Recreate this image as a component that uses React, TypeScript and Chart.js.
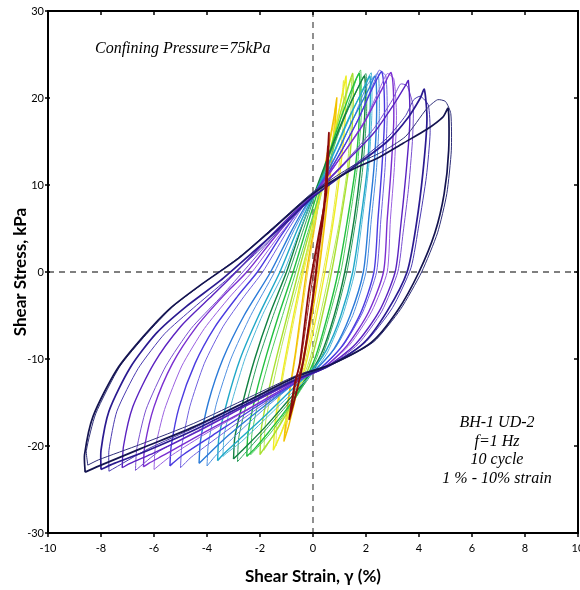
import React, { useEffect, useRef } from 'react';
import { Chart, registerables } from 'chart.js';

Chart.register(...registerables);

type P = [number, number];

// Axis ticks
const xTickValues = [-10, -8, -6, -4, -2, 0, 2, 4, 6, 8, 10];
const yTickValues = [-30, -20, -10, 0, 10, 20, 30];

// Loop levels (shear strain %, shear stress kPa), smallest to largest — main cycle
const loopL1: P[] = [[-0.9,-17],[-0.7,-13],[-0.5,-10.5],[-0.15,-2],[0.2,4],[0.5,9],[0.6,16],
  [0.45,8],[0.2,2],[0.0,-3],[-0.35,-10],[-0.6,-13.5],[-0.9,-17]];
const loopL2: P[] = [[-1.1,-19.5],[-0.95,-15],[-0.65,-9],[-0.25,0],[0.15,7],[0.5,13],[0.8,18],[0.9,20],
  [0.75,14],[0.5,7],[0.22,0],[-0.15,-7],[-0.55,-13],[-0.9,-17.5],[-1.1,-19.5]];
const loopL3: P[] = [[-1.5,-20.5],[-1.42,-17],[-1.17,-12],[-0.8,-6],[-0.4,0],[0.0,5.5],[0.4,11],[0.8,16],[1.15,21],[1.25,22.5],
  [1.2,17],[1.0,11],[0.75,5.5],[0.45,0],[0.1,-5.5],[-0.3,-11],[-0.75,-15],[-1.2,-18.5],[-1.5,-20.5]];
const loopL4: P[] = [[-2.0,-21],[-1.95,-18],[-1.7,-14],[-1.35,-9.5],[-0.97,-5],[-0.55,0],[-0.1,5],[0.3,10],[0.7,14.5],[1.1,19],[1.4,22],[1.5,22.8],
  [1.5,18],[1.35,12],[1.05,6],[0.7,0],[0.35,-5],[-0.05,-10],[-0.5,-13.5],[-1.0,-16.3],[-1.5,-18.8],[-1.85,-20.3],[-2.0,-21]];
const loopL5: P[] = [[-2.5,-21.2],[-2.45,-18.5],[-2.15,-14],[-1.75,-9.5],[-1.3,-5],[-0.75,0],[-0.25,5],[0.2,9.5],[0.65,14],[1.15,18.5],[1.6,22],[1.75,22.8],
  [1.75,18],[1.6,12],[1.3,6],[0.95,0],[0.55,-5],[0.1,-9.7],[-0.4,-13],[-1.0,-15.8],[-1.7,-18.5],[-2.2,-20.3],[-2.5,-21.2]];
const loopL6: P[] = [[-3.0,-21.5],[-2.95,-19],[-2.65,-15],[-2.2,-10],[-1.65,-5],[-1.0,0],[-0.45,5],[0.05,9],[0.6,13.5],[1.2,18],[1.75,21.5],[1.95,22.5],
  [1.95,18],[1.8,12],[1.55,6],[1.2,0],[0.8,-5],[0.3,-9.5],[-0.3,-12.5],[-1.0,-15],[-1.8,-17.8],[-2.6,-20.3],[-3.0,-21.5]];
const loopL7: P[] = [[-3.6,-21.7],[-3.55,-19],[-3.25,-15],[-2.75,-10],[-2.05,-5],[-1.25,0],[-0.6,4.8],[-0.15,7.8],[0.15,9.5],[0.75,13.5],[1.4,18],[1.95,21.3],[2.15,22.5],
  [2.15,18],[2.05,12],[1.8,6],[1.5,0],[1.05,-5],[0.5,-9],[-0.1,-11.5],[-0.8,-13.5],[-1.8,-16.5],[-2.8,-19.3],[-3.4,-21],[-3.6,-21.7]];
const loopL8: P[] = [[-4.3,-22],[-4.25,-19.5],[-3.95,-15],[-3.4,-10],[-2.6,-5],[-1.6,0],[-0.85,4.5],[-0.3,7.5],[0.05,9],[0.8,13],[1.5,17.5],[2.1,21],[2.35,22.5],
  [2.4,18],[2.3,12],[2.1,6],[1.9,0],[1.4,-5],[0.8,-8.8],[0.1,-11.2],[-0.7,-12.8],[-2.0,-15.8],[-3.2,-18.8],[-3.9,-20.8],[-4.3,-22]];
const loopL9: P[] = [[-5.4,-22.3],[-5.35,-20],[-5.05,-15.5],[-4.45,-10.5],[-3.7,-6.3],[-2.85,-2.8],[-2.1,0],[-1.2,4.2],[-0.5,7.2],[0,8.8],[0.9,13],[1.7,17.5],[2.3,21.5],[2.6,23],
  [2.7,18],[2.6,12],[2.45,6],[2.3,0],[1.8,-4.7],[1.1,-8.5],[0.3,-11],[-0.6,-12.6],[-2.2,-15.6],[-3.8,-18.8],[-4.9,-21],[-5.3,-22],[-5.4,-22.3]];
const loopL10: P[] = [[-6.4,-22.4],[-6.35,-20],[-6.0,-15.5],[-5.3,-10.5],[-4.4,-6.3],[-3.4,-2.8],[-2.5,0],[-1.5,3.8],[-0.6,7],[0,8.8],[1.0,13],[1.9,17],[2.6,21],[2.95,22.9],
  [3.05,18],[2.95,12],[2.8,6],[2.66,0],[2.1,-4.6],[1.3,-8.4],[0.4,-11],[-0.6,-12.5],[-2.3,-15.5],[-4.2,-18.6],[-5.6,-21],[-6.2,-22],[-6.4,-22.4]];
const loopL11: P[] = [[-7.2,-22.5],[-7.15,-20],[-6.8,-15.5],[-6.0,-10.5],[-5.0,-6.3],[-3.9,-3],[-2.9,0],[-1.8,3.5],[-0.8,6.6],[0,8.8],[1.2,12.5],[2.3,16],[3.1,19.5],[3.5,21.5],[3.6,22],
  [3.65,17],[3.5,11],[3.3,5],[3.1,0],[2.5,-4.5],[1.6,-8.3],[0.5,-10.9],[-0.6,-12.4],[-2.4,-15.2],[-4.4,-18.4],[-6.0,-20.8],[-6.9,-22],[-7.2,-22.5]];
const loopL12: P[] = [[-8.0,-22.7],[-8.0,-20.5],[-7.7,-16],[-6.9,-11],[-5.9,-7],[-4.8,-4],[-3.5,-1.0],[-2.3,2.2],[-1.2,5.2],[0,8.6],[1.5,12],[2.8,15],[3.6,17.8],[4.05,20],[4.2,21],
  [4.3,17.5],[4.15,11.5],[3.9,5.5],[3.55,0],[2.8,-4.5],[1.9,-8.2],[0.6,-10.8],[-0.6,-12.3],[-2.4,-15],[-4.5,-18.2],[-6.3,-20.6],[-7.5,-22],[-8.0,-22.7]];
const loopL13: P[] = [[-8.6,-23],[-8.62,-21],[-8.3,-16.6],[-7.4,-11.2],[-6.4,-7.4],[-5.4,-4.2],[-4.2,-1.4],[-2.8,1.6],[-1.5,5],[0,9],[1.5,11.8],[2.5,13.2],[3.4,14.8],[4.3,16.4],[4.9,17.8],[5.1,18.8],
  [5.12,14],[4.95,9],[4.6,4.5],[4.0,0],[3.2,-4.4],[2.2,-8.1],[0.7,-10.6],[-0.6,-12],[-2.4,-14.7],[-4.5,-17.8],[-6.5,-20.3],[-8.0,-22.2],[-8.6,-23]];

// Other cycles of the same levels (thinner traces)
const cycleL1: P[] = [[-0.85,-16],[-0.65,-12.5],[-0.45,-10],[-0.1,-2.5],[0.25,4.5],[0.5,10],[0.55,14.5],[0.4,7.5],[0.15,1.5],[-0.05,-3.5],[-0.4,-10.5],[-0.65,-13],[-0.85,-16]];
const cycleL2: P[] = [[-1.05,-18.5],[-0.9,-14.5],[-0.6,-8.5],[-0.2,0],[0.2,7.5],[0.55,13.5],[0.8,17.5],[0.85,19],[0.7,13.5],[0.45,6.5],[0.18,0],[-0.2,-7],[-0.6,-13],[-0.95,-17],[-1.05,-18.5]];
const cycleL3: P[] = [[-1.4,-20],[-1.35,-16.5],[-1.1,-11.5],[-0.75,-6],[-0.35,0],[0.05,5.5],[0.45,11],[0.85,16.5],[1.1,20.5],[1.15,22],[1.12,16.5],[0.92,10.5],[0.68,5],[0.38,0],[0.03,-5.5],[-0.35,-11],[-0.8,-15],[-1.15,-18],[-1.4,-20]];
const cycleL4: P[] = [[-1.85,-20.5],[-1.8,-17.5],[-1.55,-13.5],[-1.22,-9],[-0.85,-4.5],[-0.45,0],[0.0,5],[0.4,10],[0.8,14.5],[1.15,19],[1.38,21.7],[1.45,22.3],[1.42,17.5],[1.28,11.5],[0.98,5.5],[0.62,0],[0.27,-5],[-0.12,-10],[-0.55,-13.5],[-1.0,-16],[-1.45,-18.5],[-1.75,-20],[-1.85,-20.5]];
const cycleL5: P[] = [[-2.35,-21],[-2.3,-18.5],[-2.0,-14],[-1.6,-9.5],[-1.15,-5],[-0.65,0],[-0.15,5],[0.3,9.5],[0.75,14],[1.25,18.5],[1.65,22.3],[1.8,23.2],[1.82,18],[1.67,12],[1.38,6],[1.05,0],[0.62,-5],[0.15,-9.8],[-0.35,-13],[-0.95,-15.8],[-1.6,-18.5],[-2.1,-20.2],[-2.35,-21]];
const cycleL6: P[] = [[-2.85,-21.8],[-2.8,-19],[-2.5,-15],[-2.05,-10],[-1.5,-5],[-0.9,0],[-0.35,5],[0.15,9.5],[0.7,14],[1.3,18.5],[1.8,21.8],[2.0,22.8],[2.02,18],[1.88,12],[1.62,6],[1.28,0],[0.86,-5],[0.35,-9.6],[-0.25,-12.6],[-0.95,-15.2],[-1.75,-18],[-2.5,-20.6],[-2.85,-21.8]];
const cycleL7: P[] = [[-3.4,-21.2],[-3.35,-18.7],[-3.05,-14.8],[-2.55,-9.8],[-1.9,-4.9],[-1.1,0],[-0.5,4.8],[-0.05,8],[0.25,9.8],[0.85,14],[1.5,18.5],[2.0,21.8],[2.2,22.9],[2.22,18],[2.1,12],[1.86,6],[1.58,0],[1.12,-5],[0.55,-9.2],[-0.05,-11.8],[-0.75,-13.8],[-1.7,-16.6],[-2.7,-19.5],[-3.25,-20.8],[-3.4,-21.2]];
const cycleL8: P[] = [[-4.0,-22.3],[-3.95,-19.8],[-3.65,-15.2],[-3.1,-10],[-2.35,-5],[-1.45,0],[-0.75,4.6],[-0.2,7.8],[0.15,9.3],[0.85,13.3],[1.55,17.8],[2.05,21.5],[2.45,22.8],[2.5,18],[2.4,12],[2.2,6],[2.0,0],[1.5,-5],[0.85,-8.7],[0.15,-11],[-0.65,-12.7],[-1.9,-15.9],[-3.0,-19],[-3.7,-21.2],[-4.0,-22.3]];
const cycleL9: P[] = [[-5.0,-22.5],[-4.95,-20],[-4.65,-15.5],[-4.1,-10.5],[-3.4,-6.3],[-2.6,-2.8],[-1.9,0],[-1.05,4.3],[-0.4,7.4],[0.1,9],[0.95,13.2],[1.75,17.8],[2.3,21.8],[2.5,23.2],[2.75,22.5],[2.8,18],[2.72,12],[2.56,6],[2.4,0],[1.88,-4.6],[1.15,-8.4],[0.35,-10.9],[-0.55,-12.5],[-2.1,-15.7],[-3.6,-19],[-4.6,-21.3],[-5.0,-22.5]];
const cycleL10: P[] = [[-6.0,-22.7],[-5.95,-20.2],[-5.6,-15.8],[-4.95,-10.8],[-4.1,-6.5],[-3.15,-2.9],[-2.3,0],[-1.35,3.9],[-0.5,7.1],[0.1,9],[1.05,13.2],[1.95,17.4],[2.55,21.3],[2.8,22.8],[3.05,22.2],[3.15,18],[3.07,12],[2.92,6],[2.8,0],[2.22,-4.5],[1.4,-8.3],[0.45,-10.9],[-0.55,-12.4],[-2.2,-15.4],[-4.0,-18.5],[-5.3,-21],[-6.0,-22.7]];
const cycleL11: P[] = [[-6.7,-22.8],[-6.65,-20.3],[-6.3,-15.8],[-5.55,-10.8],[-4.6,-6.5],[-3.55,-3.1],[-2.65,0],[-1.6,3.7],[-0.7,6.9],[0.05,9.1],[1.25,12.8],[2.3,16.5],[3.0,19.8],[3.3,21.6],[3.55,21.4],[3.78,19],[3.75,15],[3.6,9.5],[3.4,4.5],[3.2,0],[2.6,-4.5],[1.7,-8.3],[0.55,-10.9],[-0.55,-12.4],[-2.3,-15],[-4.2,-18],[-5.8,-20.6],[-6.7,-22.8]];
const cycleL12: P[] = [[-7.7,-22.9],[-7.7,-20.5],[-7.4,-16],[-6.6,-11.1],[-5.6,-7.1],[-4.5,-4.1],[-3.3,-1.0],[-2.1,2.3],[-1.0,5.6],[0.1,8.9],[1.55,12.3],[2.8,15.4],[3.5,18],[3.8,19.8],[4.05,20.2],[4.35,19.2],[4.42,16],[4.28,11],[4.0,5.5],[3.7,0.5],[3.0,-4.1],[2.0,-8],[0.65,-10.7],[-0.6,-12.2],[-2.4,-14.8],[-4.4,-17.8],[-6.2,-20.3],[-7.7,-22.9]];
const cycleL13: P[] = [[-8.5,-22.2],[-8.55,-20.5],[-8.2,-16.3],[-7.3,-10.9],[-6.3,-7.2],[-5.3,-4.0],[-4.1,-1.2],[-2.7,1.9],[-1.4,5.4],[0.05,9.3],[1.5,12.2],[2.6,13.8],[3.5,15.6],[4.3,18.8],[4.7,19.8],[5.0,19.6],[5.2,18.2],[5.22,14],[5.05,9],[4.7,4.5],[4.1,0],[3.3,-4.3],[2.3,-8.0],[0.8,-10.5],[-0.55,-11.8],[-2.4,-14.4],[-4.5,-17.4],[-6.5,-19.8],[-8.1,-21.6],[-8.5,-22.2]];

const loops: P[][] = [loopL1, loopL2, loopL3, loopL4, loopL5, loopL6, loopL7, loopL8, loopL9, loopL10, loopL11, loopL12, loopL13];
const cycles: P[][] = [cycleL1, cycleL2, cycleL3, cycleL4, cycleL5, cycleL6, cycleL7, cycleL8, cycleL9, cycleL10, cycleL11, cycleL12, cycleL13];
const loopColors = ['#8b0a0a', '#f2c200', '#eeee22', '#a8e030', '#22c040', '#108040', '#20a8c8', '#2a7ad8', '#4a3ae0', '#7a2ed0', '#5a22c0', '#2a1a90', '#141450'];
const cycleColors = ['#a02020', '#f5d040', '#e8e850', '#b8e858', '#50cc60', '#30a060', '#50b8d8', '#5090e0', '#7060e0', '#9a60e0', '#7a50d0', '#4a3ab0', '#30307a'];

const noteTop = 'Confining Pressure=75kPa';
const noteLines = ['BH-1 UD-2', 'f=1 Hz', '10 cycle', '1 % - 10% strain'];
const xTitle = 'Shear Strain, \u03b3 (%)';
const yTitle = 'Shear Stress, kPa';

const framePlugin = {
  id: 'framePlugin',
  beforeDatasetsDraw(chart: any) {
    const { ctx, chartArea: a, scales } = chart;
    const x0 = scales.x.getPixelForValue(0);
    const y0 = scales.y.getPixelForValue(0);
    ctx.save();
    ctx.strokeStyle = '#555';
    ctx.lineWidth = 1.3;
    ctx.setLineDash([6, 5]);
    ctx.beginPath();
    ctx.moveTo(x0, a.top);
    ctx.lineTo(x0, a.bottom);
    ctx.moveTo(a.left, y0);
    ctx.lineTo(a.right, y0);
    ctx.stroke();
    ctx.restore();
  },
  afterDraw(chart: any) {
    const { ctx, chartArea: a, scales } = chart;
    ctx.save();
    ctx.strokeStyle = '#000';
    ctx.lineWidth = 2;
    ctx.setLineDash([]);
    ctx.strokeRect(a.left, a.top, a.right - a.left, a.bottom - a.top);
    ctx.lineWidth = 1.5;
    ctx.beginPath();
    xTickValues.forEach((v) => {
      const px = scales.x.getPixelForValue(v);
      ctx.moveTo(px, a.bottom);
      ctx.lineTo(px, a.bottom + 4);
      ctx.moveTo(px, a.top);
      ctx.lineTo(px, a.top + 4);
    });
    yTickValues.forEach((v) => {
      const py = scales.y.getPixelForValue(v);
      ctx.moveTo(a.left - 3, py);
      ctx.lineTo(a.left + 2, py);
      ctx.moveTo(a.right, py);
      ctx.lineTo(a.right - 4, py);
    });
    ctx.stroke();
    ctx.fillStyle = '#000';
    ctx.textBaseline = 'middle';
    ctx.font = 'italic 16px "Liberation Serif", "Times New Roman", serif';
    ctx.textAlign = 'left';
    ctx.fillText(noteTop, 95, 49);
    ctx.textAlign = 'center';
    noteLines.forEach((t, i) => ctx.fillText(t, 497, 423 + i * 18.6));
    ctx.restore();
  },
};

export default function App() {
  const ref = useRef<HTMLCanvasElement | null>(null);
  useEffect(() => {
    if (!ref.current) return;
    const datasets: any[] = [];
    loops.forEach((pts, i) => {
      datasets.push({
        label: 'cycle L' + (i + 1),
        data: cycles[i].map(([x, y]) => ({ x, y })),
        showLine: true,
        borderColor: cycleColors[i],
        borderWidth: 1,
        pointRadius: 0,
        tension: 0.2,
        fill: false,
        order: i === 0 ? 0 : 1,
      });
      datasets.push({
        label: 'L' + (i + 1),
        data: pts.map(([x, y]) => ({ x, y })),
        showLine: true,
        borderColor: loopColors[i],
        borderWidth: i >= 11 ? 1.7 : i === 0 ? 1.8 : 1.4,
        pointRadius: 0,
        tension: 0.25,
        fill: false,
        order: i === 0 ? 0 : 1,
      });
    });
    datasets.reverse();
    const chart = new Chart(ref.current, {
      type: 'scatter',
      data: { datasets },
      options: {
        animation: false,
        responsive: false,
        devicePixelRatio: 1,
        layout: { padding: { top: 11, right: 22, bottom: 0, left: 0 } },
        plugins: { legend: { display: false }, tooltip: { enabled: false } },
        scales: {
          x: {
            type: 'linear',
            min: -10,
            max: 10,
            afterBuildTicks: (s: any) => { s.ticks = xTickValues.map((v) => ({ value: v })); },
            afterFit: (s: any) => { s.height = 57; s.paddingLeft = 0; s.paddingRight = 0; },
            ticks: { color: '#000', font: { family: 'Lato', size: 11 }, padding: 9, maxRotation: 0, autoSkip: false },
            grid: { display: false, drawTicks: false },
            border: { display: false },
            title: { display: true, text: xTitle, color: '#000', font: { family: 'Lato', size: 17, weight: 'bold' }, padding: { top: 0, bottom: 3 } },
          },
          y: {
            type: 'linear',
            min: -30,
            max: 30,
            afterBuildTicks: (s: any) => { s.ticks = yTickValues.map((v) => ({ value: v })); },
            afterFit: (s: any) => { s.width = 48; },
            ticks: { color: '#000', font: { family: 'Lato', size: 11 }, padding: 4 },
            grid: { display: false, drawTicks: false },
            border: { display: false },
            title: { display: true, text: yTitle, color: '#000', font: { family: 'Lato', size: 17, weight: 'bold' }, padding: { top: 10, bottom: 0 } },
          },
        },
      },
      plugins: [framePlugin],
    } as any);
    return () => chart.destroy();
  }, []);
  return (
    <div style={{ position: 'absolute', left: 0, top: 0, width: 580, height: 590, overflow: 'hidden', background: '#fff' }}>
      <canvas ref={ref} width={600} height={590} style={{ display: 'block' }} />
    </div>
  );
}
